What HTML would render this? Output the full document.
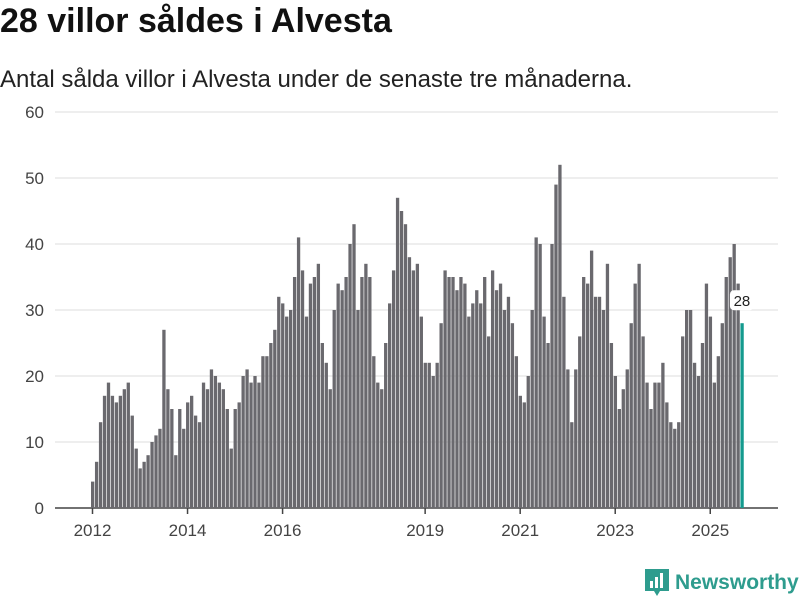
<!DOCTYPE html>
<html><head><meta charset="utf-8">
<style>
body{margin:0;background:#fff;font-family:"Liberation Sans",sans-serif;}
#wrap{position:relative;width:800px;height:600px;overflow:hidden;}
h1{position:absolute;left:0;top:2px;margin:0;font-size:34px;font-weight:bold;color:#111;}
.sub{position:absolute;left:0;top:66px;font-size:24px;color:#222;}
.logo{position:absolute;left:645px;top:569px;font-size:21px;font-weight:bold;color:#2e9c8e;display:flex;align-items:center;gap:6px;}
</style></head><body>
<div id="wrap">
<h1>28 villor såldes i Alvesta</h1>
<div class="sub">Antal sålda villor i Alvesta under de senaste tre månaderna.</div>
<svg id="chart" width="800" height="600" style="position:absolute;left:0;top:0"></svg>
<div class="logo"><svg width="24" height="28" viewBox="0 0 24 28"><path d="M0 0h24v22h-9l-3 5-3-5H0z" fill="#2e9c8e"/><rect x="5" y="12" width="3" height="7" fill="#fff"/><rect x="10" y="8" width="3" height="11" fill="#fff"/><rect x="15" y="4" width="3" height="15" fill="#fff"/></svg><span>Newsworthy</span></div>
</div>
<script>
const yTicks=[0,10,20,30,40,50,60];
const xTickYears=[2012,2014,2016,2019,2021,2023,2025];
const startYear=2012;
const values=[
4,7,13,17,19,17,16,17,18,19,14,9,
6,7,8,10,11,12,27,18,15,8,15,12,
16,17,14,13,19,18,21,20,19,18,15,9,
15,16,20,21,19,20,19,23,23,25,27,32,
31,29,30,35,41,36,29,34,35,37,25,22,
18,30,34,33,35,40,43,30,35,37,35,23,
19,18,25,31,36,47,45,43,38,36,37,29,
22,22,20,22,28,36,35,35,33,35,34,29,
31,33,31,35,26,36,33,34,30,32,28,23,
17,16,20,30,41,40,29,25,40,49,52,32,
21,13,21,26,35,34,39,32,32,30,37,25,
20,15,18,21,28,34,37,26,19,15,19,19,
22,16,13,12,13,26,30,30,22,20,25,34,
29,19,23,28,35,38,40,34,28];
const svg=document.getElementById('chart');
const NS='http://www.w3.org/2000/svg';
const y=v=>508-v*6.6;
const x=i=>91+i*3.96;
function mk(t,a){const e=document.createElementNS(NS,t);for(const k in a)e.setAttribute(k,a[k]);svg.appendChild(e);return e;}
yTicks.forEach(t=>{
 const g=mk('line',{x1:55,x2:778,y1:y(t),y2:y(t),stroke:t===0?'#444':'#ddd','stroke-width':t===0?1.5:1});
 
 
 const l=mk('text',{x:44,y:y(t)+6,'text-anchor':'end','font-size':17,fill:'#444','font-family':'Liberation Sans, sans-serif'});
 l.textContent=t;
 
 
});
values.forEach((v,i)=>{
 const last=i===values.length-1;
 const r=mk('rect',{x:x(i),y:y(v),width:3.3,height:v*6.6,fill:last?'#149a8e':'#6a696e'});
 
 
});
xTickYears.forEach(yr=>{
 const i=(yr-startYear)*12;
 const cx=x(i)+1.5;
 const t=mk('line',{x1:cx,x2:cx,y1:508,y2:514,stroke:'#444','stroke-width':1.5});
 
 
 const l=mk('text',{x:cx,y:536,'text-anchor':'middle','font-size':17,fill:'#444','font-family':'Liberation Sans, sans-serif'});
 l.textContent=yr;
 
 
});
const li=values.length-1, lv=values[li];
const bx=x(li)+1.5;
const box=mk('rect',{x:bx-12,y:y(lv)-33,width:24,height:20,rx:4,fill:'#fff'});


const lt=mk('text',{x:bx,y:y(lv)-17,'text-anchor':'middle','font-size':15,fill:'#222','font-family':'Liberation Sans, sans-serif'});
lt.textContent=lv;


</script>
</body></html>
